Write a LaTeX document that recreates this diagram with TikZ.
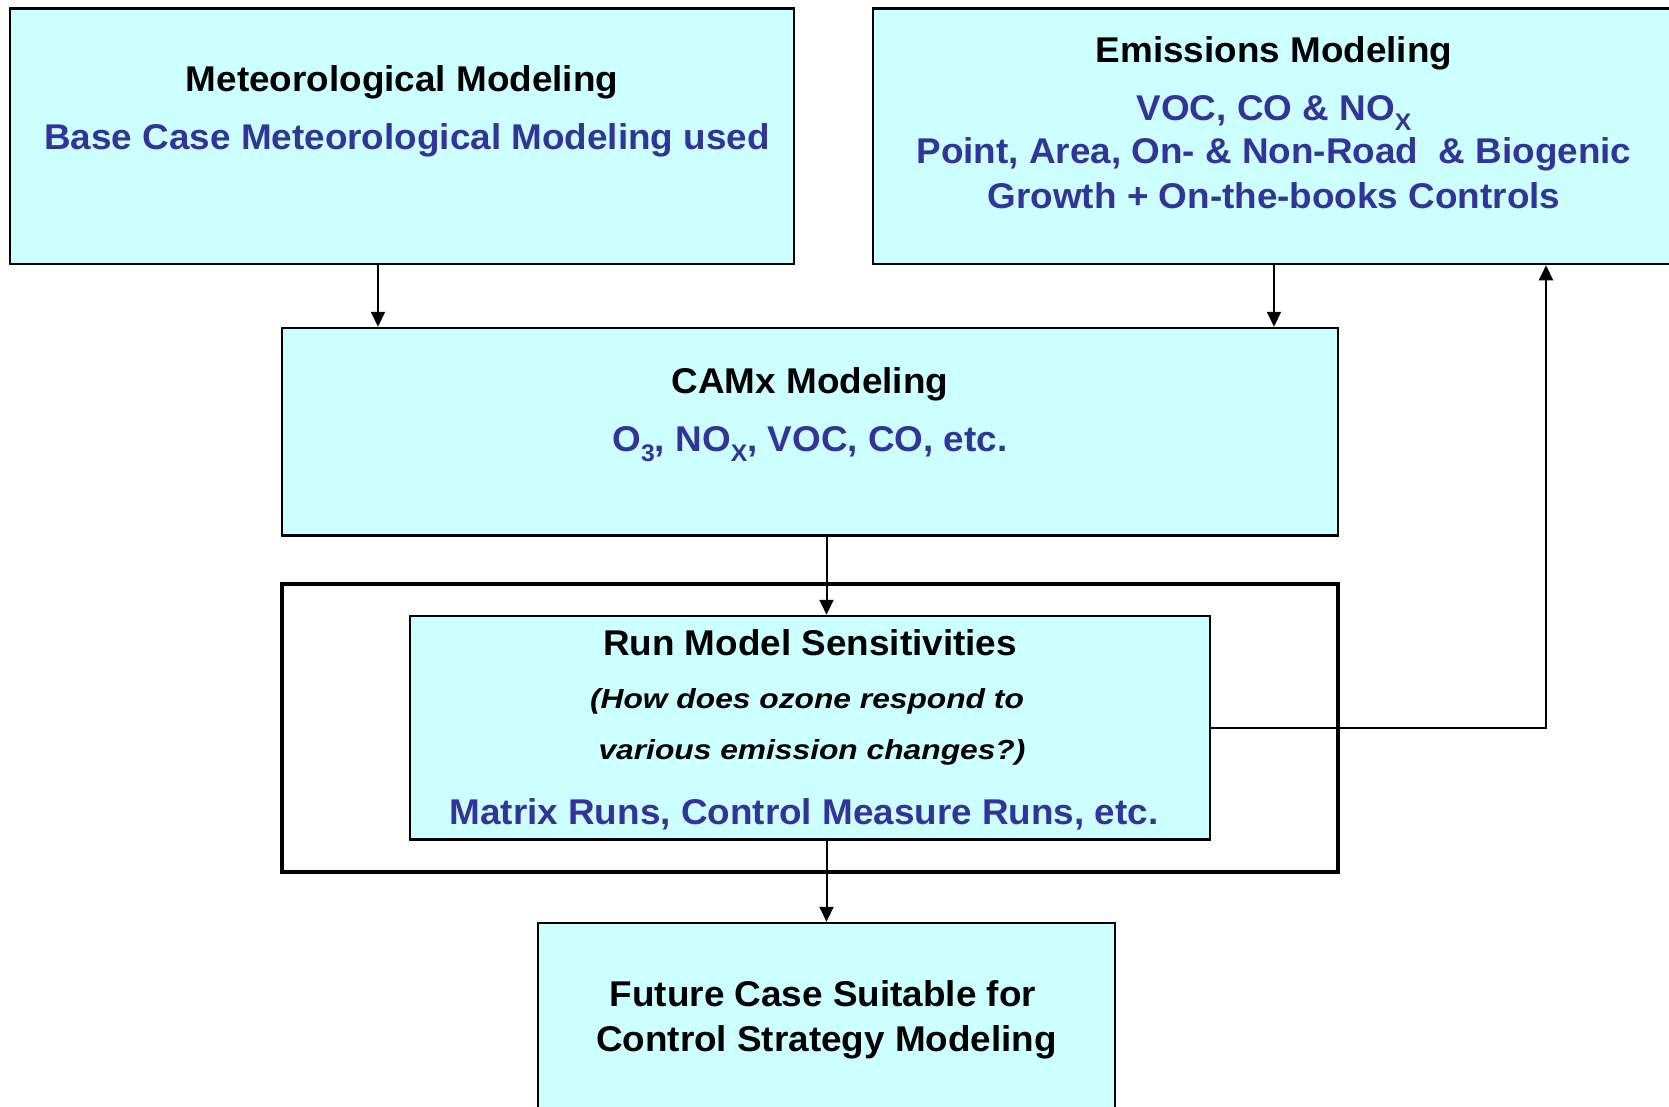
\documentclass[tikz,border=0pt]{standalone}
\usepackage{fontspec}
\setmainfont{Liberation Sans}[FakeStretch=1.03]
\newfontfamily\askfont{Liberation Sans}[FakeStretch=1.15]
\usetikzlibrary{positioning,arrows.meta}
\definecolor{boxfill}{HTML}{CCFFFF}
\definecolor{txtblue}{HTML}{333399}
\newcommand{\chemsub}[1]{\raisebox{-10pt}{\fontsize{24}{24}\selectfont #1}}

\begin{document}
\begin{tikzpicture}[x=1pt,y=-1pt,>={Triangle[length=15pt,width=14pt]},
  box/.style={rectangle,draw,line width=2.5pt,fill=boxfill,inner sep=0pt},
  frame/.style={rectangle,draw,line width=4.5pt,inner sep=0pt},
  head/.style={anchor=base,font=\fontsize{35.8}{42}\selectfont\bfseries},
  info/.style={head,text=txtblue},
  ask/.style={anchor=base,font=\askfont\fontsize{27.6}{31}\selectfont\bfseries\itshape},
  arr/.style={->,line width=2pt}]
  \useasboundingbox (0,0) rectangle (1669,1107);
  % boxes
  \node[box,minimum width=784,minimum height=255.5] (met) at (402,136.25) {};
  \node[box,minimum width=802,minimum height=255.5] (emis) at (1274,136.25) {};
  \node[box,minimum width=1056,minimum height=207.5] (camx) at (810,431.75) {};
  \node[frame,minimum width=1056,minimum height=288] (sens) at (810,728) {};
  \node[box,minimum width=800,minimum height=223.5] (run) at (810,727.75) {};
  \node[box,minimum width=577,minimum height=197] (fut) at (826.5,1021.5) {};
  % texts
  \node[head] (met-t) at (402,92) {Meteorological Modeling};
  \node[info] (met-i) at (407,150) {Base Case Meteorological Modeling used};
  \node[head] (emis-t) at (1274,63) {Emissions Modeling};
  \node[info] (emis-a) at (1274,121) {VOC, CO \& NO\chemsub{X}};
  \node[info] (emis-b) at (1274,164) {Point, Area, On- \& Non-Road\ \ \& Biogenic};
  \node[info] (emis-c) at (1274,209) {Growth + On-the-books Controls};
  \node[head] (camx-t) at (810,393) {CAMx Modeling};
  \node[info] (camx-i) at (810,451) {O\chemsub{3}, NO\chemsub{X}, VOC, CO, etc.};
  \node[head] (run-t) at (810,655) {Run Model Sensitivities};
  \node[ask] (run-q1) at (807,708.5) {(How does ozone respond to};
  \node[ask] (run-q2) at (812,759) {various emission changes?)};
  \node[info] (run-i) at (804,824) {Matrix Runs, Control Measure Runs, etc.};
  \node[head] (fut-a) at (823,1006) {Future Case Suitable for};
  \node[head] (fut-b) at (826.5,1051) {Control Strategy Modeling};
  % connectors
  \draw[arr] ([xshift=-24pt]met.south) -- ([xshift=-24pt]met.south |- camx.north);
  \draw[arr] (emis.south) -- (emis.south |- camx.north);
  \draw[arr] (camx.south -| fut.north) -- (run.north -| fut.north);
  \draw[arr] (run.south -| fut.north) -- (fut.north);
  \draw[arr] (run.east) -| ([xshift=272pt]emis.south);
\end{tikzpicture}
\end{document}
